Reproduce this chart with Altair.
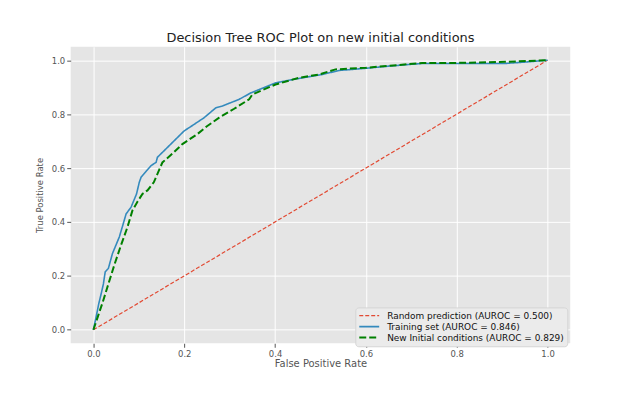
import altair as alt
import pandas as pd

series_names = [
    "Random prediction (AUROC = 0.500)",
    "Training set (AUROC = 0.846)",
    "\u00a0New Initial conditions (AUROC = 0.829)",
]
series_colors = ["#E24A33", "#348ABD", "#008000"]

random_fpr = [0.0, 1.0]
random_tpr = [0.0, 1.0]

train_fpr = [0.0, 0.005, 0.012, 0.018, 0.022, 0.026, 0.033, 0.042, 0.057, 0.066,
             0.072, 0.083, 0.095, 0.101, 0.105, 0.117, 0.127, 0.138, 0.141, 0.167,
             0.2, 0.22, 0.244, 0.27, 0.284, 0.321, 0.347, 0.375, 0.401, 0.438,
             0.497, 0.504, 0.541, 0.6, 0.65, 0.724, 0.8, 0.907, 0.95, 1.0]
train_tpr = [0.0, 0.04, 0.098, 0.14, 0.17, 0.215, 0.228, 0.283, 0.344, 0.395,
             0.43, 0.455, 0.504, 0.547, 0.566, 0.59, 0.609, 0.621, 0.64, 0.683,
             0.738, 0.76, 0.787, 0.824, 0.83, 0.855, 0.879, 0.898, 0.916, 0.928,
             0.945, 0.947, 0.962, 0.97, 0.978, 0.988, 0.988, 0.988, 0.993, 1.0]

new_fpr = [0.0, 0.01, 0.021, 0.033, 0.046, 0.06, 0.075, 0.086, 0.097, 0.108,
           0.119, 0.133, 0.152, 0.175, 0.196, 0.229, 0.25, 0.277, 0.31, 0.343,
           0.35, 0.401, 0.453, 0.497, 0.533, 0.6, 0.65, 0.724, 0.8, 0.907, 1.0]
new_tpr = [0.0, 0.05, 0.105, 0.17, 0.24, 0.31, 0.381, 0.443, 0.475, 0.504,
           0.517, 0.547, 0.621, 0.655, 0.689, 0.726, 0.755, 0.787, 0.82, 0.855,
           0.873, 0.91, 0.935, 0.947, 0.966, 0.972, 0.979, 0.99, 0.99, 0.994, 1.0]

rows = []
for name, xs, ys in zip(series_names,
                        [random_fpr, train_fpr, new_fpr],
                        [random_tpr, train_tpr, new_tpr]):
    for i, (a, b) in enumerate(zip(xs, ys)):
        rows.append({"series": name, "fpr": a, "tpr": b, "idx": i})
df = pd.DataFrame(rows)

ticks = [0.0, 0.2, 0.4, 0.6, 0.8, 1.0]

legend = alt.Legend(
    title=None, orient="none", legendX=286, legendY=262,
    fillColor="#EBEBEB", strokeColor="#D5D5D5", padding=3, cornerRadius=3,
    symbolType="stroke", symbolSize=400, labelFontSize=9, labelColor="#111111",
    labelFont="DejaVu Sans", rowPadding=0, labelLimit=400, clipHeight=10.5,
    labelOffset=7,
)

chart = alt.Chart(df).mark_line().encode(
    x=alt.X("fpr:Q", title="False Positive Rate",
            scale=alt.Scale(domain=[-0.05, 1.05], nice=False, zero=False),
            axis=alt.Axis(values=ticks, format=".1f")),
    y=alt.Y("tpr:Q", title="True Positive Rate",
            scale=alt.Scale(domain=[-0.05, 1.05], nice=False, zero=False),
            axis=alt.Axis(values=ticks, format=".1f", titleFontSize=8.5, titlePadding=7)),
    color=alt.Color("series:N", scale=alt.Scale(domain=series_names, range=series_colors),
                    legend=legend, sort=series_names),
    strokeDash=alt.StrokeDash("series:N",
                              scale=alt.Scale(domain=series_names, range=[[4, 2], [1, 0], [7, 3]]),
                              legend=legend, sort=series_names),
    strokeWidth=alt.StrokeWidth("series:N",
                                scale=alt.Scale(domain=series_names, range=[1.2, 2.0, 2.0]),
                                legend=legend, sort=series_names),
    order="idx:Q",
    detail="series:N",
).properties(
    width=502, height=298,
    title=alt.Title("Decision Tree ROC Plot on new initial conditions",
                    fontSize=13, font="DejaVu Sans", fontWeight="normal",
                    color="#222222", offset=2),
    autosize=alt.AutoSizeParams(type="none"),
    padding={"left": 63, "top": 38, "right": 50, "bottom": 40},
).configure_view(
    fill="#E5E5E5", stroke=None
).configure_axis(
    grid=True, gridColor="#FFFFFF", gridWidth=1, domain=False,
    tickColor="#555555", tickSize=4, labelColor="#555555", labelFontSize=8.5,
    labelFont="DejaVu Sans", titleFont="DejaVu Sans", titleColor="#555555",
    titleFontWeight="normal", titleFontSize=10, labelPadding=2,
).configure_axisX(titlePadding=1)

chart.save("out.html", embed_options={"renderer": "svg", "actions": False})
